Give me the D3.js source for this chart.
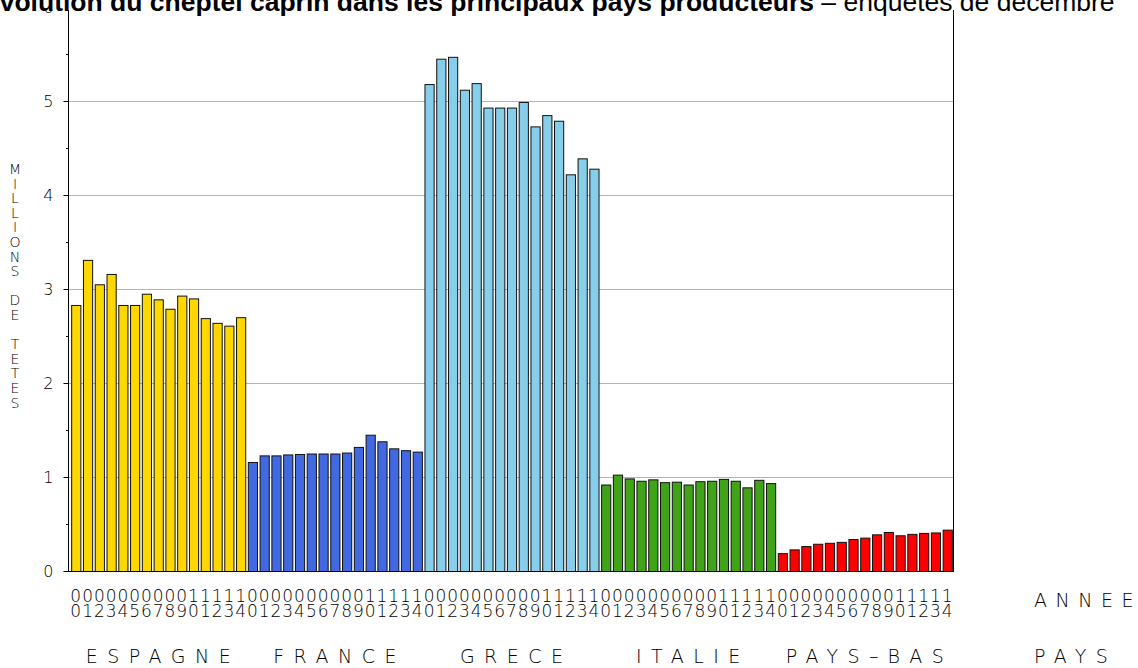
<!DOCTYPE html>
<html>
<head>
<meta charset="utf-8">
<script src="https://cdn.jsdelivr.net/npm/d3@7"></script>
<style>
  body { margin: 0; background: #fff; }
  svg { display: block; }
</style>
</head>
<body>
<div id="chart"></div>
<script>
// Data (millions of goats, December surveys 2000-2014)
var countries = ["ESPAGNE", "FRANCE", "GRECE", "ITALIE", "PAYS-BAS"];
var years = ["00","01","02","03","04","05","06","07","08","09","10","11","12","13","14"];
var espagne = [2.83, 3.31, 3.05, 3.16, 2.83, 2.83, 2.95, 2.89, 2.79, 2.93, 2.90, 2.69, 2.64, 2.61, 2.70];
var france  = [1.16, 1.23, 1.23, 1.24, 1.245, 1.25, 1.25, 1.25, 1.26, 1.32, 1.45, 1.38, 1.305, 1.285, 1.27];
var grece   = [5.18, 5.45, 5.47, 5.12, 5.19, 4.93, 4.93, 4.93, 4.99, 4.73, 4.85, 4.79, 4.22, 4.39, 4.28];
var italie  = [0.92, 1.025, 0.985, 0.96, 0.975, 0.945, 0.95, 0.92, 0.955, 0.96, 0.98, 0.96, 0.89, 0.97, 0.935];
var paysBas = [0.19, 0.23, 0.265, 0.29, 0.30, 0.31, 0.34, 0.355, 0.39, 0.415, 0.38, 0.395, 0.405, 0.41, 0.44];
var colors = ["#FFD700", "#4169E1", "#87CEEB", "#41A317", "#FF0000"];
var yTicks = [0, 1, 2, 3, 4, 5, 6];
var yTitle = "MILLIONS DE TETES";

var series = [espagne, france, grece, italie, paysBas];

var width = 1138, height = 668;
var plotLeft = 68, plotRight = 953, plotTop = 7, plotBottom = 571;
var lightFont = "'DejaVu Sans', sans-serif";

var svg = d3.select("#chart")
    .append("svg")
        .attr("width", width)
        .attr("height", height);

// Flatten into one bar per country/year
var data = [];
countries.forEach(function(c, ci) {
    years.forEach(function(yr, yi) {
        data.push({country: c, year: yr, value: series[ci][yi], fill: colors[ci]});
    });
});

var x = d3.scaleBand()
    .domain(data.map(d => d.country + d.year))
    .range([70, plotRight])
    .paddingInner(0.22)
    .paddingOuter(0.1);

var y = d3.scaleLinear()
    .domain([0, 6])
    .range([plotBottom, plotTop]);

// Gridlines
svg.append("g")
    .selectAll("line")
    .data(yTicks.filter(d => d > 0 && d < 6))
    .join("line")
        .attr("x1", plotLeft)
        .attr("x2", plotRight)
        .attr("y1", d => Math.round(y(d)) + 0.5)
        .attr("y2", d => Math.round(y(d)) + 0.5)
        .attr("stroke", "#b4b4b4")
        .attr("stroke-width", 1);

// Bars
svg.append("g")
    .selectAll("rect")
    .data(data)
    .join("rect")
        .attr("x", d => x(d.country + d.year) + 0.5)
        .attr("y", d => y(d.value) + 0.5)
        .attr("width", x.bandwidth())
        .attr("height", d => y(0) - y(d.value))
        .attr("fill", d => d.fill)
        .attr("stroke", "#111")
        .attr("stroke-width", 1);

// Left axis: major ticks at integers, minor at halves
var yAxis = d3.axisLeft(y)
    .tickValues(yTicks)
    .tickSize(5)
    .tickPadding(10)
    .tickFormat(d3.format("d"));

var gy = svg.append("g")
    .attr("transform", "translate(" + (plotLeft + 0.5) + ",0)")
    .call(yAxis);
gy.select(".domain").remove();
gy.selectAll("line").attr("stroke", "#000");
gy.selectAll("text")
    .attr("font-family", lightFont)
    .attr("font-weight", 200)
    .attr("font-size", 16)
    .attr("fill", "#000");

svg.append("g")
    .selectAll("line")
    .data(d3.range(0.5, 6, 1))
    .join("line")
        .attr("x1", plotLeft - 2)
        .attr("x2", plotLeft)
        .attr("y1", d => Math.round(y(d)) + 0.5)
        .attr("y2", d => Math.round(y(d)) + 0.5)
        .attr("stroke", "#000");

// Frame lines: left, bottom, right
svg.append("line")
    .attr("x1", plotLeft + 0.5).attr("x2", plotLeft + 0.5)
    .attr("y1", 10).attr("y2", plotBottom + 0.5)
    .attr("stroke", "#000");
svg.append("line")
    .attr("x1", plotRight + 0.5).attr("x2", plotRight + 0.5)
    .attr("y1", 10).attr("y2", plotBottom + 0.5)
    .attr("stroke", "#000");
svg.append("line")
    .attr("x1", plotLeft).attr("x2", plotRight + 1)
    .attr("y1", plotBottom + 0.5).attr("y2", plotBottom + 0.5)
    .attr("stroke", "#000");

// Year labels, two stacked digits under each bar
var yearLabels = svg.append("g")
    .attr("font-family", lightFont)
    .attr("font-weight", 200)
    .attr("font-size", 17)
    .attr("text-anchor", "middle");
yearLabels.selectAll("text.tens")
    .data(data)
    .join("text")
        .attr("class", "tens")
        .attr("x", d => x(d.country + d.year) + x.bandwidth() / 2)
        .attr("y", 602)
        .text(d => d.year[0]);
yearLabels.selectAll("text.ones")
    .data(data)
    .join("text")
        .attr("class", "ones")
        .attr("x", d => x(d.country + d.year) + x.bandwidth() / 2)
        .attr("y", 617)
        .text(d => d.year[1]);

// Country labels centred under each group
var spacing = 9.5;
svg.append("g")
    .selectAll("text")
    .data(countries)
    .join("text")
        .attr("x", function(c) {
            var a = x(c + years[0]);
            var b = x(c + years[years.length - 1]) + x.bandwidth();
            return (a + b) / 2 + spacing / 2;
        })
        .attr("y", 663)
        .attr("text-anchor", "middle")
        .attr("font-family", lightFont)
        .attr("font-weight", 200)
        .attr("font-size", 19)
        .attr("letter-spacing", spacing)
        .text(d => d.replace("-", "\u2013"));

// Axis names on the right
svg.append("text")
    .attr("x", 1034).attr("y", 607)
    .attr("font-family", lightFont)
    .attr("font-weight", 200)
    .attr("font-size", 19)
    .attr("letter-spacing", 8.5)
    .text("ANNEE");
svg.append("text")
    .attr("x", 1034).attr("y", 663)
    .attr("font-family", lightFont)
    .attr("font-weight", 200)
    .attr("font-size", 19)
    .attr("letter-spacing", spacing)
    .text("PAYS");

// Y title, letters stacked upright
svg.append("g")
    .selectAll("text")
    .data(yTitle.split(""))
    .join("text")
        .attr("x", 15)
        .attr("y", (d, i) => 174 + i * 14.6)
        .attr("text-anchor", "middle")
        .attr("font-family", lightFont)
        .attr("font-weight", 200)
        .attr("font-size", 14)
        .text(d => d);

// Title band covers the top of the frame
svg.append("rect")
    .attr("x", 0).attr("y", 0)
    .attr("width", width).attr("height", 9)
    .attr("fill", "#fff");

var title = svg.append("text")
    .attr("x", -18)
    .attr("y", 11)
    .attr("font-family", "'Liberation Sans', Arial, sans-serif")
    .attr("font-size", 26.5);
title.append("tspan")
    .attr("font-weight", "bold")
    .text("Évolution du cheptel caprin dans les principaux pays producteurs");
title.append("tspan")
    .attr("font-weight", "normal")
    .text(" \u2013 enquêtes de décembre");
</script>
</body>
</html>
